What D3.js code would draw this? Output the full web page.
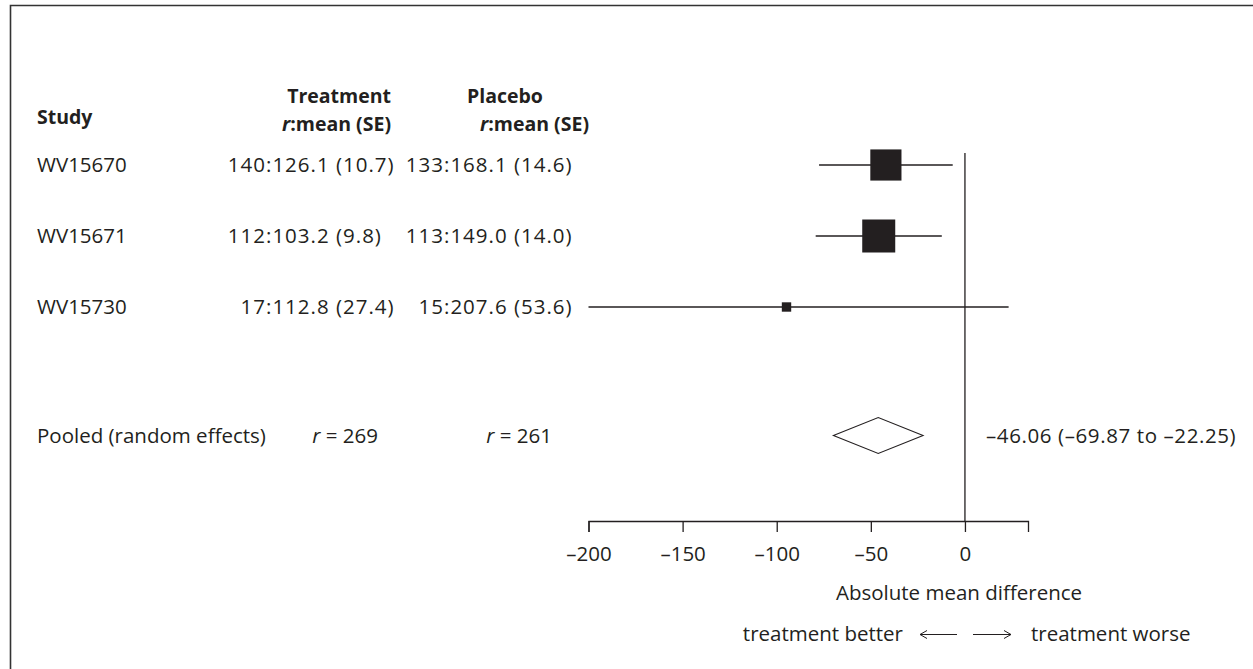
<!DOCTYPE html>
<html>
<head>
<meta charset="utf-8">
<script src="https://cdnjs.cloudflare.com/ajax/libs/d3/7.8.5/d3.min.js"></script>
<style>
  html, body { margin: 0; padding: 0; background: #fff; }
  svg { display: block; }
  text { font-family: "Open Sans", Lato, sans-serif; fill: #231f20; }
</style>
</head>
<body>
<svg id="chart" width="1253" height="669"></svg>
<script>
// ---- data ----
const studies   = ["WV15670", "WV15671", "WV15730"];
const treatN    = [140, 112, 17];
const treatMean = ["126.1", "103.2", "112.8"];
const treatSE   = ["10.7", "9.8", "27.4"];
const placN     = [133, 113, 15];
const placMean  = ["168.1", "149.0", "207.6"];
const placSE    = ["14.6", "14.0", "53.6"];
const effect    = [-42.0, -45.8, -94.8];
const ciLow     = [-77.5, -79.3, -212.8];
const ciHigh    = [-6.5, -12.3, 23.2];
const weightPct = [45.2, 50.7, 4.1];
const pooledLabel = "Pooled (random effects)";
const pooledTreatN = 269;
const pooledPlacN = 261;
const pooled    = [-46.06, -69.87, -22.25]; // estimate, low, high
const tickValues = [-200, -150, -100, -50, 0];
const xDomain = [-200, 33.5];

// ---- layout ----
const svg = d3.select("#chart");
const ink = "#231f20";
const fs = 20.5;
const hfs = 19.5;

// frame
svg.append("path")
  .attr("d", "M10.5,669 V5.5 H1253")
  .attr("fill", "none").attr("stroke", "#333").attr("stroke-width", 1.6);

const x = d3.scaleLinear().domain(xDomain).range([588.5, 1028]);
const yRow = d3.scaleLinear().domain([0, 1]).range([165, 236]);
const yPooled = 435.5;
const axisY = 521;
const boxSize = d3.scaleSqrt().domain([0, d3.max(weightPct)]).range([0, 33]);

// headers
svg.append("text").attr("x", 37).attr("y", 124).attr("font-size", hfs).attr("font-weight", "bold").text("Study");
svg.append("text").attr("x", 391).attr("y", 103).attr("text-anchor", "end").attr("font-size", hfs).attr("font-weight", "bold").text("Treatment");
const th = svg.append("text").attr("x", 391).attr("y", 131).attr("text-anchor", "end").attr("font-size", hfs).attr("font-weight", "bold");
th.append("tspan").attr("font-style", "italic").text("r");
th.append("tspan").text(":mean (SE)");
svg.append("text").attr("x", 467).attr("y", 103).attr("font-size", hfs).attr("font-weight", "bold").text("Placebo");
const ph = svg.append("text").attr("x", 589).attr("y", 131).attr("text-anchor", "end").attr("font-size", hfs).attr("font-weight", "bold");
ph.append("tspan").attr("font-style", "italic").text("r");
ph.append("tspan").text(":mean (SE)");

// rows text
const treatColon = 266, placColon = 444, numLS = 1;
studies.forEach((s, i) => {
  const yb = yRow(i) + 7;
  svg.append("text").attr("x", 37).attr("y", yb).attr("font-size", fs).text(s);
  svg.append("text").attr("x", treatColon).attr("y", yb).attr("font-size", fs).attr("letter-spacing", numLS).attr("text-anchor", "end").text(treatN[i]);
  svg.append("text").attr("x", treatColon).attr("y", yb).attr("font-size", fs).attr("letter-spacing", numLS).text(":" + treatMean[i] + " (" + treatSE[i] + ")");
  svg.append("text").attr("x", placColon).attr("y", yb).attr("font-size", fs).attr("letter-spacing", numLS).attr("text-anchor", "end").text(placN[i]);
  svg.append("text").attr("x", placColon).attr("y", yb).attr("font-size", fs).attr("letter-spacing", numLS).text(":" + placMean[i] + " (" + placSE[i] + ")");
});

// pooled text
svg.append("text").attr("x", 37).attr("y", yPooled + 7).attr("font-size", fs).text(pooledLabel);
function rText(xp, n) {
  const t = svg.append("text").attr("x", xp).attr("y", yPooled + 7).attr("font-size", fs).attr("text-anchor", "end");
  t.append("tspan").attr("font-style", "italic").text("r");
  t.append("tspan").text(" = " + n);
}
rText(378, pooledTreatN);
rText(552, pooledPlacN);
const dash = v => v < 0 ? "\u2013" + Math.abs(v).toFixed(2) : v.toFixed(2);
svg.append("text").attr("x", 986).attr("y", yPooled + 7).attr("font-size", fs).attr("letter-spacing", 0.6)
  .text(dash(pooled[0]) + " (" + dash(pooled[1]) + " to " + dash(pooled[2]) + ")");

// zero line
svg.append("line").attr("x1", x(0)).attr("x2", x(0)).attr("y1", 153).attr("y2", axisY)
  .attr("stroke", ink).attr("stroke-width", 1.3);

// CIs and boxes
const g = svg.append("g");
studies.forEach((s, i) => {
  const lo = Math.max(ciLow[i], xDomain[0]);
  g.append("line").attr("x1", x(lo)).attr("x2", x(ciHigh[i])).attr("y1", yRow(i)).attr("y2", yRow(i))
    .attr("stroke", ink).attr("stroke-width", 1.3);
  const b = boxSize(weightPct[i]);
  g.append("rect").attr("x", x(effect[i]) - b / 2).attr("y", yRow(i) - b / 2)
    .attr("width", b).attr("height", b).attr("fill", ink);
});

// diamond
const dh = 18;
svg.append("path")
  .attr("d", `M${x(pooled[1])},${yPooled} L${x(pooled[0])},${yPooled - dh} L${x(pooled[2])},${yPooled} L${x(pooled[0])},${yPooled + dh} Z`)
  .attr("fill", "#fff").attr("stroke", ink).attr("stroke-width", 1.1);

// axis
const axis = d3.axisBottom(x).tickValues(tickValues).tickSizeOuter(0).tickSize(11)
  .tickFormat(d => d < 0 ? "\u2013" + Math.abs(d) : String(d));
const ag = svg.append("g").attr("transform", `translate(0,${axisY})`).call(axis);
ag.select(".domain").attr("stroke", ink).attr("stroke-width", 1.3);
ag.selectAll(".tick line").attr("stroke", ink).attr("stroke-width", 1.3);
ag.selectAll(".tick text").attr("font-size", fs).attr("font-family", "'Open Sans', sans-serif").attr("fill", ink).attr("dy", "0").attr("y", 40);

svg.append("text").attr("x", 959).attr("y", 600).attr("text-anchor", "middle").attr("font-size", fs).text("Absolute mean difference");

// direction legend
const ly = 641;
svg.append("text").attr("x", 903).attr("y", ly).attr("text-anchor", "end").attr("font-size", fs).text("treatment better");
svg.append("text").attr("x", 1031).attr("y", ly).attr("font-size", fs).text("treatment worse");
const ay = 634.5;
svg.append("path").attr("d", `M920,${ay} H957 M920,${ay} l7,-4 M920,${ay} l7,4`).attr("fill", "none").attr("stroke", ink).attr("stroke-width", 1);
svg.append("path").attr("d", `M973,${ay} H1011 M1011,${ay} l-7,-4 M1011,${ay} l-7,4`).attr("fill", "none").attr("stroke", ink).attr("stroke-width", 1);
</script>
</body>
</html>
